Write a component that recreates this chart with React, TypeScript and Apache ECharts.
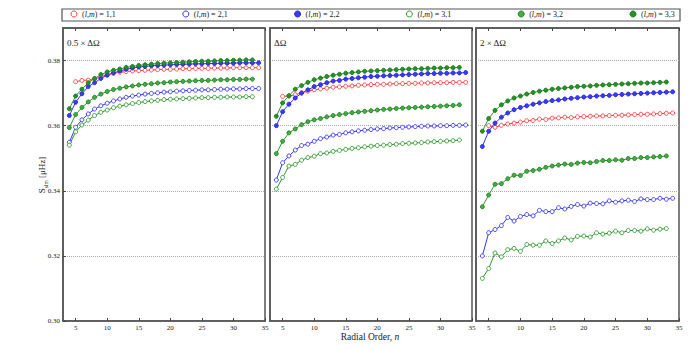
import React, { useEffect, useRef } from "react";
import * as echarts from "echarts";

const PANEL_TITLES = ["0.5 × ΔΩ", "ΔΩ", "2 × ΔΩ"];
const X_TICKS = [5, 10, 15, 20, 25, 30, 35];
const Y_TICKS = [0.30, 0.32, 0.34, 0.36, 0.38];
const MODES = ["1,1", "2,1", "2,2", "3,1", "3,2", "3,3"];
const MODE_START_N = [5, 4, 4, 4, 4, 4];

// Panel 1: 0.5 x ΔΩ
const half_11 = [0.3735, 0.3739, 0.3740, 0.3743, 0.3750, 0.3757, 0.3761, 0.3764, 0.3766, 0.3768, 0.3769, 0.3770, 0.3771, 0.3772, 0.3773, 0.3773, 0.3774, 0.3775, 0.3775, 0.3776, 0.3776, 0.3776, 0.3777, 0.3777, 0.3777, 0.3778, 0.3778, 0.3778, 0.3778, 0.3778];
const half_21 = [0.3549, 0.3595, 0.3618, 0.3636, 0.3651, 0.3661, 0.3669, 0.3676, 0.3682, 0.3687, 0.3691, 0.3694, 0.3697, 0.3699, 0.3701, 0.3703, 0.3704, 0.3706, 0.3707, 0.3708, 0.3709, 0.3710, 0.3710, 0.3711, 0.3712, 0.3712, 0.3713, 0.3713, 0.3714, 0.3714, 0.3714];
const half_22 = [0.3631, 0.3672, 0.3698, 0.3720, 0.3732, 0.3745, 0.3755, 0.3762, 0.3768, 0.3773, 0.3777, 0.3780, 0.3782, 0.3784, 0.3785, 0.3786, 0.3787, 0.3788, 0.3789, 0.3789, 0.3790, 0.3790, 0.3791, 0.3791, 0.3792, 0.3792, 0.3792, 0.3793, 0.3793, 0.3793, 0.3793];
const half_31 = [0.3540, 0.3581, 0.3602, 0.3617, 0.3631, 0.3641, 0.3648, 0.3655, 0.3660, 0.3664, 0.3668, 0.3671, 0.3674, 0.3676, 0.3678, 0.3680, 0.3681, 0.3682, 0.3683, 0.3684, 0.3685, 0.3686, 0.3686, 0.3687, 0.3687, 0.3688, 0.3688, 0.3688, 0.3689, 0.3689];
const half_32 = [0.3594, 0.3634, 0.3656, 0.3673, 0.3687, 0.3697, 0.3705, 0.3711, 0.3715, 0.3719, 0.3722, 0.3725, 0.3727, 0.3729, 0.3731, 0.3732, 0.3734, 0.3735, 0.3736, 0.3737, 0.3738, 0.3739, 0.3739, 0.3740, 0.3741, 0.3741, 0.3742, 0.3742, 0.3743, 0.3743];
const half_33 = [0.3652, 0.3691, 0.3712, 0.3732, 0.3745, 0.3757, 0.3765, 0.3770, 0.3774, 0.3779, 0.3782, 0.3785, 0.3787, 0.3789, 0.3791, 0.3792, 0.3793, 0.3794, 0.3795, 0.3796, 0.3797, 0.3798, 0.3798, 0.3799, 0.3800, 0.3800, 0.3801, 0.3801, 0.3802, 0.3802];

// Panel 2: ΔΩ
const one_11 = [0.3690, 0.3691, 0.3695, 0.3701, 0.3706, 0.3710, 0.3713, 0.3715, 0.3718, 0.3719, 0.3721, 0.3722, 0.3724, 0.3725, 0.3726, 0.3727, 0.3727, 0.3728, 0.3729, 0.3729, 0.3730, 0.3730, 0.3731, 0.3731, 0.3732, 0.3732, 0.3732, 0.3733, 0.3733, 0.3733];
const one_21 = [0.3433, 0.3486, 0.3507, 0.3525, 0.3539, 0.3543, 0.3552, 0.3560, 0.3565, 0.3571, 0.3573, 0.3578, 0.3581, 0.3584, 0.3586, 0.3588, 0.3590, 0.3591, 0.3593, 0.3594, 0.3595, 0.3596, 0.3597, 0.3598, 0.3599, 0.3599, 0.3600, 0.3600, 0.3601, 0.3601, 0.3602];
const one_22 = [0.3600, 0.3643, 0.3666, 0.3685, 0.3700, 0.3710, 0.3720, 0.3726, 0.3732, 0.3737, 0.3739, 0.3743, 0.3745, 0.3747, 0.3749, 0.3751, 0.3752, 0.3753, 0.3754, 0.3755, 0.3756, 0.3757, 0.3758, 0.3759, 0.3760, 0.3760, 0.3761, 0.3761, 0.3762, 0.3762, 0.3763];
const one_31 = [0.3405, 0.3441, 0.3476, 0.3481, 0.3494, 0.3502, 0.3506, 0.3514, 0.3516, 0.3521, 0.3524, 0.3527, 0.3530, 0.3532, 0.3535, 0.3537, 0.3539, 0.3540, 0.3542, 0.3543, 0.3545, 0.3546, 0.3547, 0.3548, 0.3550, 0.3551, 0.3552, 0.3553, 0.3554, 0.3556];
const one_32 = [0.3514, 0.3552, 0.3578, 0.3590, 0.3603, 0.3612, 0.3618, 0.3622, 0.3627, 0.3631, 0.3634, 0.3637, 0.3640, 0.3642, 0.3644, 0.3646, 0.3648, 0.3650, 0.3651, 0.3653, 0.3654, 0.3655, 0.3656, 0.3657, 0.3658, 0.3659, 0.3660, 0.3661, 0.3662, 0.3664];
const one_33 = [0.3629, 0.3670, 0.3692, 0.3712, 0.3723, 0.3733, 0.3741, 0.3746, 0.3751, 0.3755, 0.3758, 0.3761, 0.3763, 0.3765, 0.3767, 0.3768, 0.3769, 0.3770, 0.3771, 0.3772, 0.3773, 0.3774, 0.3775, 0.3775, 0.3776, 0.3777, 0.3777, 0.3778, 0.3778, 0.3779];

// Panel 3: 2 x ΔΩ
const two_11 = [0.3600, 0.3595, 0.3601, 0.3605, 0.3608, 0.3611, 0.3615, 0.3616, 0.3620, 0.3619, 0.3623, 0.3624, 0.3626, 0.3625, 0.3627, 0.3628, 0.3629, 0.3630, 0.3630, 0.3631, 0.3632, 0.3632, 0.3633, 0.3634, 0.3635, 0.3635, 0.3636, 0.3637, 0.3638, 0.3639];
const two_21 = [0.3200, 0.3271, 0.3281, 0.3293, 0.3318, 0.3307, 0.3321, 0.3327, 0.3323, 0.3340, 0.3336, 0.3336, 0.3348, 0.3344, 0.3352, 0.3358, 0.3353, 0.3362, 0.3361, 0.3360, 0.3369, 0.3365, 0.3369, 0.3371, 0.3367, 0.3375, 0.3373, 0.3373, 0.3377, 0.3374, 0.3377];
const two_22 = [0.3536, 0.3583, 0.3608, 0.3626, 0.3639, 0.3649, 0.3656, 0.3661, 0.3666, 0.3670, 0.3674, 0.3677, 0.3679, 0.3682, 0.3684, 0.3686, 0.3688, 0.3689, 0.3691, 0.3692, 0.3693, 0.3695, 0.3696, 0.3697, 0.3698, 0.3699, 0.3700, 0.3701, 0.3702, 0.3703, 0.3704];
const two_31 = [0.3131, 0.3161, 0.3209, 0.3197, 0.3219, 0.3223, 0.3214, 0.3235, 0.3233, 0.3233, 0.3246, 0.3238, 0.3246, 0.3255, 0.3249, 0.3260, 0.3261, 0.3258, 0.3271, 0.3267, 0.3270, 0.3276, 0.3271, 0.3278, 0.3278, 0.3276, 0.3283, 0.3279, 0.3282, 0.3284];
const two_32 = [0.3351, 0.3387, 0.3420, 0.3422, 0.3437, 0.3448, 0.3447, 0.3460, 0.3462, 0.3466, 0.3472, 0.3476, 0.3479, 0.3482, 0.3481, 0.3485, 0.3487, 0.3486, 0.3490, 0.3493, 0.3493, 0.3495, 0.3494, 0.3499, 0.3499, 0.3502, 0.3502, 0.3504, 0.3505, 0.3507];
const two_33 = [0.3583, 0.3622, 0.3647, 0.3664, 0.3676, 0.3685, 0.3691, 0.3697, 0.3702, 0.3706, 0.3709, 0.3712, 0.3714, 0.3716, 0.3718, 0.3720, 0.3721, 0.3722, 0.3724, 0.3725, 0.3726, 0.3727, 0.3728, 0.3729, 0.3730, 0.3731, 0.3731, 0.3732, 0.3733, 0.3734];

const PANEL_DATA = [
  [half_11, half_21, half_22, half_31, half_32, half_33],
  [one_11, one_21, one_22, one_31, one_32, one_33],
  [two_11, two_21, two_22, two_31, two_32, two_33],
];

const RED = "#ff3b3b";
const BLUE = "#3434ff";
const GREEN = "#2c9a2c";
const SERIF = "'Liberation Serif', 'DejaVu Serif', serif";

const MODE_STYLE = [
  { line: RED, fill: "#fff", border: RED },
  { line: BLUE, fill: "#fff", border: BLUE },
  { line: BLUE, fill: "#3a3aff", border: "#2424d8" },
  { line: GREEN, fill: "#fff", border: GREEN },
  { line: GREEN, fill: "#45ad45", border: "#1e7f1e" },
  { line: GREEN, fill: "#259325", border: "#1a751a" },
];

const GRID_LEFT = [63, 270, 476];
const GRID_W = [202, 202, 203];
const GRID_TOP = 28;
const GRID_H = 293;
const FRAME = "#555";

export default function App() {
  const ref = useRef<HTMLDivElement>(null);
  useEffect(() => {
    if (!ref.current) return;
    const chart = echarts.init(ref.current, undefined, { renderer: "svg" });

    const grids: any[] = [];
    const xAxes: any[] = [];
    const yAxes: any[] = [];
    const series: any[] = [];

    for (let p = 0; p < 3; p++) {
      grids.push({
        left: GRID_LEFT[p],
        top: GRID_TOP,
        width: GRID_W[p],
        height: GRID_H,
        show: true,
        borderColor: FRAME,
        borderWidth: 1.5,
        backgroundColor: "#fff",
      });
      xAxes.push({
        type: "value",
        gridIndex: p,
        min: 3,
        max: 35,
        position: "bottom",
        axisLine: { show: true, lineStyle: { color: FRAME, width: 1.5 } },
        axisTick: { show: true, inside: true, length: 3, customValues: X_TICKS, lineStyle: { color: "#444" } },
        axisLabel: {
          show: true,
          customValues: X_TICKS,
          fontSize: 7,
          margin: 3,
          color: "#222",
          fontFamily: SERIF,
        },
        splitLine: { show: false },
      });
      xAxes.push({
        type: "value",
        gridIndex: p,
        min: 3,
        max: 35,
        position: "top",
        axisLine: { show: true, lineStyle: { color: FRAME, width: 1.5 } },
        axisTick: { show: true, inside: true, length: 3, customValues: X_TICKS, lineStyle: { color: "#444" } },
        axisLabel: { show: false },
        splitLine: { show: false },
      });
      yAxes.push({
        type: "value",
        gridIndex: p,
        min: 0.3,
        max: 0.39,
        interval: 0.02,
        axisLine: { show: true, lineStyle: { color: FRAME, width: 1.5 } },
        axisTick: { show: p === 0, inside: true, length: 3, customValues: Y_TICKS, lineStyle: { color: "#444" } },
        axisLabel: {
          show: p === 0,
          customValues: Y_TICKS,
          fontSize: 7,
          margin: 3,
          color: "#222",
          fontFamily: SERIF,
          formatter: (v: number) => v.toFixed(2),
        },
        splitLine: { show: true, lineStyle: { color: "#aaa", type: "dotted", width: 1 } },
      });

      for (let m = 0; m < MODES.length; m++) {
        const st = MODE_STYLE[m];
        const vals = PANEL_DATA[p][m];
        series.push({
          type: "line",
          name: MODES[m],
          xAxisIndex: p * 2,
          yAxisIndex: p,
          data: vals.map((v, i) => [MODE_START_N[m] + i, v]),
          symbol: "circle",
          symbolSize: 4,
          showSymbol: true,
          lineStyle: { color: st.line, width: 1 },
          itemStyle: { color: st.fill, borderColor: st.border, borderWidth: 0.9 },
          emphasis: { disabled: true },
        });
      }
    }

    const legendCenters = [73.5, 185.3, 297.1, 408.9, 520.7, 632.5];
    const legends = MODES.map((name, m) => ({
      left: legendCenters[m] - 3,
      top: 10,
      orient: "horizontal",
      itemWidth: 6,
      itemHeight: 6,
      itemGap: 0,
      padding: 0,
      selectedMode: false,
      data: [
        {
          name,
          icon: "circle",
          itemStyle: {
            color: MODE_STYLE[m].fill,
            borderColor: MODE_STYLE[m].border,
            borderWidth: 1,
          },
        },
      ],
      formatter: (n: string) => `{p|(}{i|l,m}{p|) = ${n}}`,
      textStyle: {
        fontFamily: SERIF,
        fontSize: 8,
        color: "#222",
        rich: {
          p: { fontFamily: SERIF, fontSize: 8, color: "#222" },
          i: { fontFamily: SERIF, fontSize: 8, fontStyle: "italic", color: "#222" },
        },
      },
    }));

    const option: any = {
      animation: false,
      backgroundColor: "#fff",
      grid: grids,
      xAxis: xAxes,
      yAxis: yAxes,
      series,
      legend: legends,
      title: PANEL_TITLES.map((t, p) => ({
        text: t,
        left: GRID_LEFT[p] + 4,
        top: 38,
        padding: 0,
        textStyle: { fontFamily: SERIF, fontSize: 9, fontWeight: "normal", color: "#222" },
      })),
      graphic: [
        {
          type: "rect",
          shape: { x: 62, y: 9, width: 618, height: 12 },
          style: { fill: "none", stroke: FRAME, lineWidth: 1.2 },
          z: 0,
        },
        {
          type: "text",
          x: 370,
          y: 337,
          style: {
            text: "{a|Radial Order, }{b|n}",
            textAlign: "center",
            textVerticalAlign: "middle",
            rich: {
              a: { fontFamily: SERIF, fontSize: 9.5, fill: "#222" },
              b: { fontFamily: SERIF, fontSize: 9.5, fontStyle: "italic", fill: "#222" },
            },
          },
        },
        {
          type: "text",
          x: 42,
          y: 175,
          rotation: Math.PI / 2,
          style: {
            text: "{a|S}{s|slm}{a| [μHz]}",
            textAlign: "center",
            textVerticalAlign: "middle",
            rich: {
              a: { fontFamily: SERIF, fontSize: 9, fill: "#222", verticalAlign: "bottom" },
              s: { fontFamily: SERIF, fontSize: 5.5, fill: "#222", verticalAlign: "bottom", padding: [0, 0, -2, 0] },
            },
          },
        },
      ],
    };

    chart.setOption(option);
    return () => chart.dispose();
  }, []);

  return (
    <div
      ref={ref}
      style={{ position: "fixed", left: 0, top: 0, width: 700, height: 350 }}
    />
  );
}
